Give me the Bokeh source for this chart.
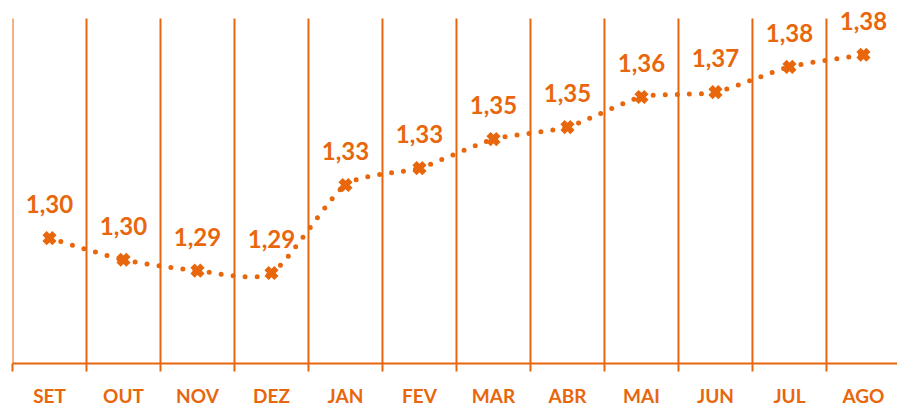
from bokeh.plotting import figure
from bokeh.models import FixedTicker, Range1d, LabelSet, ColumnDataSource
from bokeh.core.properties import value
from bokeh.embed import file_html
from bokeh.resources import INLINE

months = ["SET", "OUT", "NOV", "DEZ", "JAN", "FEV", "MAR", "ABR", "MAI", "JUN", "JUL", "AGO"]
values = [1.305, 1.296, 1.2915, 1.2905, 1.327, 1.334, 1.346, 1.351, 1.3635, 1.3655, 1.376, 1.381]
labels = [f"{v:.2f}".replace(".", ",") for v in values]

ORANGE = "#E8660C"
FONT = "Lato"
Y_MIN, Y_MAX = 1.253, 1.4035
GRID_TOP = 1.396

n = len(months)
xs = [i + 0.5 for i in range(n)]
boundaries = list(range(n + 1))

p = figure(width=897, height=409, output_backend="svg", toolbar_location=None,
           x_range=Range1d(0, 11.96), y_range=Range1d(Y_MIN, Y_MAX),
           min_border_left=12, min_border_right=0, min_border_top=0, min_border_bottom=41)
p.outline_line_color = None
p.background_fill_color = "white"
p.border_fill_color = "white"

# vertical gridlines at category boundaries
p.segment(x0=boundaries, y0=[Y_MIN] * len(boundaries), x1=boundaries, y1=[GRID_TOP] * len(boundaries),
          line_color=ORANGE, line_width=2)

# smooth curve through points (cubic bezier, Catmull-Rom style control points)
x0, y0, x1, y1, cx0, cy0, cx1, cy1 = [], [], [], [], [], [], [], []
k = 1 / 9
for i in range(n - 1):
    pm = (xs[i - 1], values[i - 1]) if i > 0 else (xs[i], values[i])
    pa = (xs[i], values[i])
    pb = (xs[i + 1], values[i + 1])
    pn = (xs[i + 2], values[i + 2]) if i + 2 < n else (xs[i + 1], values[i + 1])
    x0.append(pa[0]); y0.append(pa[1]); x1.append(pb[0]); y1.append(pb[1])
    cx0.append(pa[0] + (pb[0] - pm[0]) * k); cy0.append(pa[1] + (pb[1] - pm[1]) * k)
    cx1.append(pb[0] - (pn[0] - pa[0]) * k); cy1.append(pb[1] - (pn[1] - pa[1]) * k)

p.bezier(x0=x0, y0=y0, x1=x1, y1=y1, cx0=cx0, cy0=cy0, cx1=cx1, cy1=cy1,
         line_color=ORANGE, line_width=5, line_dash="0 12", line_cap="round")

src = ColumnDataSource(dict(x=xs, y=values, label=labels))
p.scatter("x", "y", source=src, marker="x", size=14, line_width=6, line_color=ORANGE)

ls = LabelSet(x="x", y="y", text="label", source=src, text_align="center",
              text_baseline="alphabetic", y_offset=25, text_color=ORANGE,
              text_font=value(FONT), text_font_style="bold", text_font_size="24px")
p.add_layout(ls)

p.yaxis.visible = False
p.ygrid.grid_line_color = None
p.xgrid.grid_line_color = None

ax = p.xaxis[0]
ax.ticker = FixedTicker(ticks=xs, minor_ticks=boundaries)
ax.major_label_overrides = {x: m for x, m in zip(xs, months)}
ax.axis_line_color = ORANGE
ax.axis_line_width = 2
ax.major_tick_line_color = None
ax.major_tick_out = 0
ax.major_tick_in = 0
ax.minor_tick_line_color = ORANGE
ax.minor_tick_line_width = 2
ax.minor_tick_out = 8
ax.minor_tick_in = 0
ax.major_label_standoff = 12
ax.major_label_text_font = FONT
ax.major_label_text_font_style = "bold"
ax.major_label_text_font_size = "19px"
ax.major_label_text_color = ORANGE

open("out.html", "w").write(file_html(p, INLINE))
